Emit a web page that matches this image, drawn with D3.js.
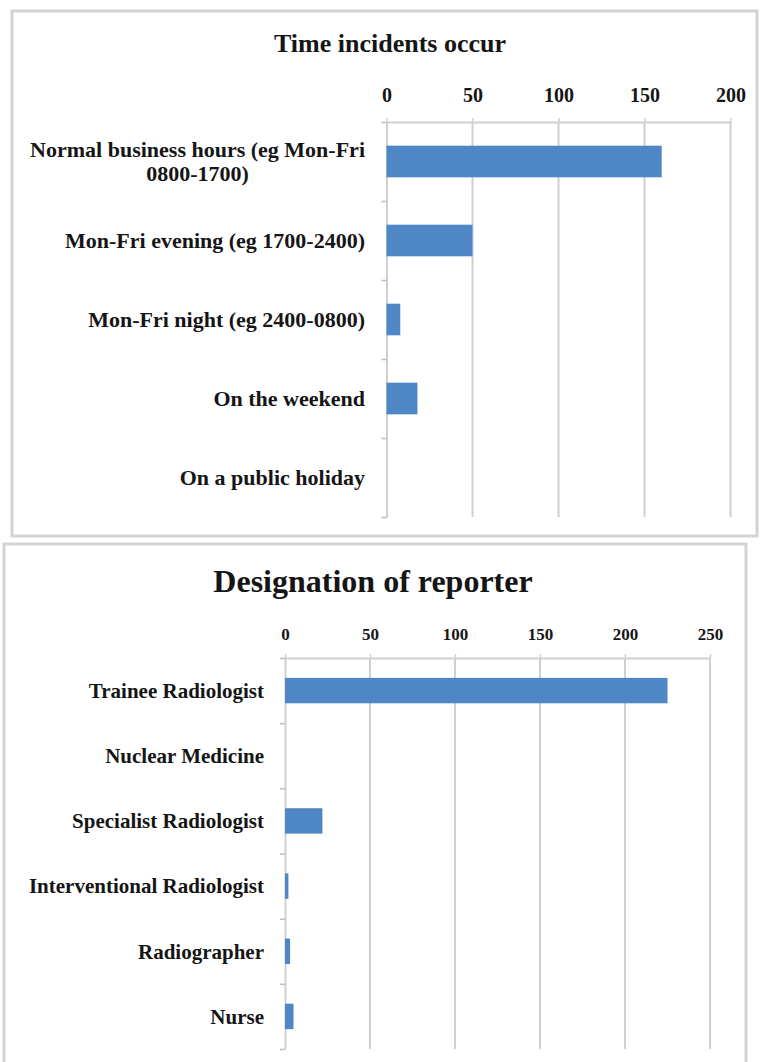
<!DOCTYPE html>
<html>
<head>
<meta charset="utf-8">
<script src="https://cdn.jsdelivr.net/npm/d3@7"></script>
<style>
  html, body { margin: 0; padding: 0; background: #ffffff; }
  svg { display: block; }
  text { font-family: "Liberation Serif", "Times New Roman", serif; font-weight: bold; fill: #151515; }
</style>
</head>
<body>
<svg id="chart" width="764" height="1062"></svg>
<script>
// ---- Data ----
const timeTitle = "Time incidents occur";
const timeCategories = [
  "Normal business hours (eg Mon-Fri 0800-1700)",
  "Mon-Fri evening (eg 1700-2400)",
  "Mon-Fri night (eg 2400-0800)",
  "On the weekend",
  "On a public holiday"
];
const timeValues = [160, 50, 8, 18, 0];
const timeTicks = [0, 50, 100, 150, 200];

const reporterTitle = "Designation of reporter";
const reporterCategories = [
  "Trainee Radiologist",
  "Nuclear Medicine",
  "Specialist Radiologist",
  "Interventional Radiologist",
  "Radiographer",
  "Nurse"
];
const reporterValues = [225, 0, 22, 2, 3, 5];
const reporterTicks = [0, 50, 100, 150, 200, 250];

// ---- Drawing ----
const svg = d3.select("#chart");
const barColor = "#4f86c6";
const gridColor = "#cfcfcf";
const borderColor = "#d3d3d3";

function drawPanel(cfg) {
  svg.append("rect")
    .attr("x", cfg.panel[0]).attr("y", cfg.panel[1])
    .attr("width", cfg.panel[2]).attr("height", cfg.panel[3])
    .attr("fill", "#fff").attr("stroke", borderColor).attr("stroke-width", 3);

  const g = svg.append("g");

  const x = d3.scaleLinear().domain([0, d3.max(cfg.ticks)]).range([cfg.x0, cfg.x1]);
  const n = cfg.categories.length;
  const y = d3.scaleBand().domain(cfg.categories).range([cfg.y0, cfg.y1])
    .paddingInner(cfg.pad).paddingOuter(cfg.pad / 2);
  const yEdge = d3.scaleLinear().domain([0, n]).range([cfg.y0, cfg.y1]);

  g.append("text")
    .attr("x", cfg.titleX).attr("y", cfg.titleY)
    .attr("text-anchor", "middle")
    .style("font-size", cfg.titleSize + "px")
    .text(cfg.title);

  g.append("g").selectAll("line")
    .data(cfg.ticks.filter(d => d > 0))
    .join("line")
    .attr("x1", d => x(d)).attr("x2", d => x(d))
    .attr("y1", cfg.y0).attr("y2", cfg.y1)
    .attr("stroke", gridColor).attr("stroke-width", 2);

  const ax = g.append("g").attr("transform", `translate(0,${cfg.y0})`)
    .call(d3.axisTop(x).tickValues(cfg.ticks).tickFormat(d3.format("d"))
      .tickSizeInner(4).tickSizeOuter(0).tickPadding(cfg.tickPad));
  ax.select(".domain").attr("stroke", gridColor).attr("stroke-width", 2);
  ax.selectAll(".tick line").attr("stroke", gridColor).attr("stroke-width", 1.5);
  ax.selectAll(".tick text")
    .style("font-family", "'Liberation Serif', 'Times New Roman', serif")
    .style("font-weight", "bold")
    .style("font-size", cfg.tickSize + "px")
    .attr("fill", "#151515");

  const ay = g.append("g").attr("transform", `translate(${cfg.x0},0)`)
    .call(d3.axisLeft(yEdge).tickValues(d3.range(n + 1)).tickFormat("")
      .tickSizeInner(5).tickSizeOuter(0));
  ay.select(".domain").attr("stroke", gridColor).attr("stroke-width", 2);
  ay.selectAll(".tick line").attr("stroke", "#bdbdbd").attr("stroke-width", 1.5);

  g.append("g").selectAll("rect")
    .data(cfg.values)
    .join("rect")
    .attr("x", x(0))
    .attr("y", (d, i) => y(cfg.categories[i]))
    .attr("width", d => x(d) - x(0))
    .attr("height", y.bandwidth())
    .attr("fill", barColor);

  const lineH = cfg.lineH;
  cfg.categories.forEach(cat => {
    const t = g.append("text")
      .style("font-size", cfg.labelSize + "px")
      .attr("text-anchor", "middle");
    const words = cat.split(" ");
    const lines = [];
    let cur = [];
    const probe = g.append("text").style("font-size", cfg.labelSize + "px");
    words.forEach(w => {
      const test = cur.concat([w]).join(" ");
      probe.text(test);
      if (probe.node().getComputedTextLength() > cfg.labelMax && cur.length) {
        lines.push(cur.join(" "));
        cur = [w];
      } else {
        cur.push(w);
      }
    });
    lines.push(cur.join(" "));
    let maxW = 0;
    lines.forEach(l => { probe.text(l); maxW = Math.max(maxW, probe.node().getComputedTextLength()); });
    probe.remove();
    const cx = cfg.labelRight - maxW / 2;
    const cy = y(cat) + y.bandwidth() / 2;
    const startY = cy - (lines.length - 1) * lineH / 2;
    lines.forEach((l, i) => {
      t.append("tspan").attr("x", cx).attr("y", startY + i * lineH)
        .attr("dy", "0.35em").text(l);
    });
  });
}

drawPanel({
  panel: [12, 11, 745, 525],
  title: timeTitle, titleX: 390, titleY: 52, titleSize: 26,
  categories: timeCategories, values: timeValues, ticks: timeTicks,
  x0: 386.5, x1: 730.5, y0: 122, y1: 517, pad: 0.6,
  tickSize: 20, tickPad: 16,
  labelSize: 22, lineH: 24, labelRight: 365, labelMax: 350
});

drawPanel({
  panel: [4, 544, 742, 530],
  title: reporterTitle, titleX: 373, titleY: 592, titleSize: 32,
  categories: reporterCategories, values: reporterValues, ticks: reporterTicks,
  x0: 285, x1: 710, y0: 658, y1: 1049, pad: 0.61,
  tickSize: 17, tickPad: 14,
  labelSize: 21, lineH: 24, labelRight: 264, labelMax: 300
});
</script>
</body>
</html>
